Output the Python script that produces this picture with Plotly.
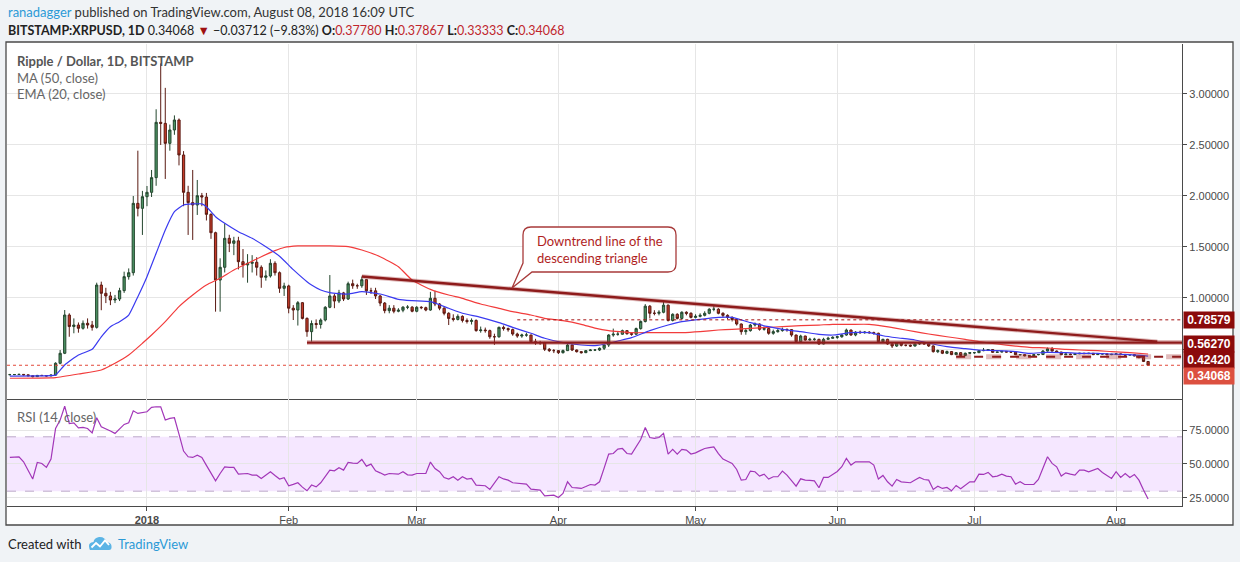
import plotly.graph_objects as go
import pandas as pd

W, H = 1240, 562
PL, PR, PT, PB = 7, 1182, 44, 506     # plot area in page pixels
SPLIT = 399                           # border between price pane and RSI pane


def px(x):
    return (x - PL) / (PR - PL)


def py(y):
    return (PB - y) / (PB - PT)


# ---------------- daily candles, 2017-12-02 .. 2018-08-08 ----------------
first_open = 0.248

dec_close = [0.249, 0.250, 0.251, 0.247, 0.238, 0.229, 0.241, 0.240, 0.236, 0.244,
             0.360, 0.458, 0.833, 0.720, 0.735, 0.703, 0.752, 0.735, 0.712, 1.127,
             1.046, 1.020, 0.980, 0.990, 1.072, 1.209, 1.248, 1.928, 1.879, 1.993]
dec_high = [0.256, 0.255, 0.258, 0.253, 0.249, 0.240, 0.246, 0.247, 0.243, 0.250,
            0.370, 0.490, 0.882, 0.850, 0.800, 0.760, 0.780, 0.800, 0.775, 1.150,
            1.160, 1.100, 1.060, 1.030, 1.100, 1.258, 1.290, 2.000, 2.444, 2.050]
dec_low = [0.243, 0.244, 0.245, 0.240, 0.232, 0.222, 0.228, 0.234, 0.230, 0.234,
           0.240, 0.350, 0.450, 0.620, 0.654, 0.660, 0.690, 0.700, 0.680, 0.700,
           0.880, 0.950, 0.930, 0.950, 0.970, 1.050, 1.180, 1.220, 1.800, 1.618]

jan_close = [2.036, 2.180, 2.722, 2.712, 2.516, 2.647, 2.745, 2.402, 2.036, 1.935,
             1.912, 2.003, 1.990, 1.820, 1.640, 1.176, 1.301, 1.585, 1.536, 1.560,
             1.356, 1.324, 1.340, 1.350, 1.301, 1.203, 1.216, 1.340, 1.248, 1.095,
             1.118]
jan_high = [2.098, 2.255, 2.850, 3.300, 3.060, 2.700, 2.790, 2.760, 2.440, 2.100,
            2.255, 2.157, 2.030, 2.030, 1.830, 1.650, 1.389, 1.732, 1.620, 1.600,
            1.600, 1.480, 1.430, 1.420, 1.400, 1.320, 1.270, 1.380, 1.360, 1.260,
            1.150]
jan_low = [1.900, 1.990, 2.100, 2.500, 2.167, 2.444, 2.600, 2.300, 1.900, 1.618,
           1.569, 1.814, 1.900, 1.760, 1.580, 0.866, 0.866, 1.250, 1.450, 1.420,
           1.280, 1.200, 1.150, 1.250, 1.220, 1.100, 1.170, 1.200, 1.220, 1.050,
           1.020]

feb_close = [0.900, 0.882, 0.954, 0.800, 0.670, 0.750, 0.740, 0.784, 0.909, 1.020,
             0.970, 1.050, 0.990, 1.140, 1.120, 1.120, 1.180, 1.070, 1.070, 1.020,
             0.950, 0.876, 0.900, 0.870, 0.880, 0.910, 0.910, 0.870]
feb_high = [1.130, 0.930, 0.970, 0.960, 0.810, 0.780, 0.790, 0.800, 0.920, 1.225,
            1.040, 1.080, 1.060, 1.160, 1.180, 1.140, 1.210, 1.180, 1.100, 1.100,
            1.030, 0.960, 0.930, 0.930, 0.900, 0.920, 0.930, 0.920]
feb_low = [0.850, 0.784, 0.730, 0.790, 0.620, 0.572, 0.700, 0.700, 0.770, 0.900,
           0.900, 0.950, 0.970, 0.980, 1.090, 1.090, 1.100, 1.030, 1.040, 0.990,
           0.920, 0.850, 0.850, 0.850, 0.860, 0.860, 0.890, 0.860]

mar_close = [0.909, 0.905, 0.882, 0.997, 0.941, 0.900, 0.850, 0.800, 0.790, 0.820,
             0.780, 0.770, 0.780, 0.680, 0.686, 0.680, 0.620, 0.620, 0.712, 0.700,
             0.690, 0.647, 0.627, 0.637, 0.637, 0.572, 0.562, 0.562, 0.497, 0.484,
             0.484]
mar_high = [0.920, 0.920, 0.915, 1.060, 1.070, 0.950, 0.910, 0.860, 0.840, 0.840,
            0.830, 0.800, 0.800, 0.790, 0.720, 0.710, 0.690, 0.650, 0.720, 0.730,
            0.710, 0.700, 0.660, 0.650, 0.660, 0.640, 0.600, 0.580, 0.570, 0.510,
            0.500]
mar_low = [0.860, 0.890, 0.870, 0.875, 0.920, 0.880, 0.830, 0.735, 0.770, 0.780,
           0.760, 0.750, 0.740, 0.670, 0.660, 0.660, 0.600, 0.540, 0.610, 0.680,
           0.670, 0.630, 0.610, 0.610, 0.620, 0.560, 0.540, 0.540, 0.480, 0.470,
           0.460]

apr_close = [0.464, 0.484, 0.539, 0.490, 0.474, 0.464, 0.484, 0.490, 0.490, 0.507,
             0.539, 0.637, 0.645, 0.645, 0.680, 0.650, 0.645, 0.700, 0.770, 0.920,
             0.850, 0.850, 0.860, 0.930, 0.780, 0.840, 0.800, 0.860, 0.850, 0.810]
apr_high = [0.490, 0.495, 0.550, 0.545, 0.495, 0.480, 0.490, 0.500, 0.500, 0.515,
            0.545, 0.645, 0.700, 0.670, 0.690, 0.685, 0.660, 0.710, 0.780, 0.940,
            0.930, 0.880, 0.880, 0.960, 0.935, 0.850, 0.850, 0.870, 0.870, 0.860]
apr_low = [0.451, 0.455, 0.480, 0.480, 0.465, 0.455, 0.460, 0.480, 0.480, 0.480,
           0.490, 0.520, 0.620, 0.630, 0.640, 0.640, 0.630, 0.640, 0.690, 0.760,
           0.800, 0.830, 0.830, 0.850, 0.770, 0.770, 0.790, 0.790, 0.830, 0.800]

may_close = [0.820, 0.830, 0.850, 0.890, 0.890, 0.850, 0.830, 0.810, 0.790, 0.745,
             0.670, 0.680, 0.735, 0.745, 0.693, 0.700, 0.654, 0.670, 0.680, 0.693,
             0.690, 0.637, 0.572, 0.627, 0.588, 0.595, 0.595, 0.549, 0.595, 0.605,
             0.614]
may_high = [0.840, 0.850, 0.870, 0.900, 0.920, 0.900, 0.860, 0.840, 0.820, 0.800,
            0.750, 0.700, 0.745, 0.760, 0.750, 0.720, 0.710, 0.690, 0.700, 0.710,
            0.700, 0.695, 0.640, 0.640, 0.630, 0.610, 0.610, 0.600, 0.610, 0.620,
            0.625]
may_low = [0.800, 0.810, 0.820, 0.840, 0.870, 0.840, 0.810, 0.790, 0.770, 0.730,
           0.640, 0.640, 0.670, 0.720, 0.680, 0.680, 0.640, 0.640, 0.660, 0.670,
           0.670, 0.620, 0.560, 0.560, 0.580, 0.580, 0.580, 0.540, 0.545, 0.590,
           0.600]

jun_close = [0.620, 0.637, 0.686, 0.637, 0.665, 0.660, 0.665, 0.660, 0.654, 0.572,
             0.595, 0.549, 0.529, 0.560, 0.536, 0.536, 0.529, 0.549, 0.556, 0.550,
             0.530, 0.474, 0.484, 0.458, 0.475, 0.445, 0.464, 0.436, 0.458, 0.464]
jun_high = [0.630, 0.645, 0.700, 0.690, 0.675, 0.680, 0.675, 0.675, 0.670, 0.660,
            0.600, 0.600, 0.560, 0.565, 0.565, 0.545, 0.545, 0.555, 0.565, 0.560,
            0.555, 0.535, 0.495, 0.490, 0.485, 0.480, 0.470, 0.470, 0.465, 0.470]
jun_low = [0.600, 0.610, 0.630, 0.630, 0.625, 0.650, 0.650, 0.650, 0.640, 0.560,
           0.560, 0.540, 0.510, 0.520, 0.525, 0.525, 0.520, 0.525, 0.540, 0.540,
           0.520, 0.465, 0.460, 0.450, 0.450, 0.440, 0.440, 0.425, 0.430, 0.450]

jul_close = [0.464, 0.484, 0.487, 0.495, 0.467, 0.470, 0.477, 0.470, 0.470, 0.444,
             0.445, 0.433, 0.435, 0.444, 0.446, 0.480, 0.503, 0.480, 0.470, 0.444,
             0.451, 0.445, 0.453, 0.458, 0.455, 0.458, 0.445, 0.452, 0.452, 0.445,
             0.448]
jul_high = [0.470, 0.490, 0.510, 0.500, 0.500, 0.475, 0.480, 0.480, 0.475, 0.472,
            0.450, 0.447, 0.440, 0.447, 0.450, 0.490, 0.515, 0.520, 0.485, 0.472,
            0.455, 0.455, 0.457, 0.462, 0.462, 0.462, 0.460, 0.455, 0.456, 0.458,
            0.452]
jul_low = [0.452, 0.460, 0.478, 0.480, 0.462, 0.462, 0.465, 0.465, 0.462, 0.440,
           0.436, 0.428, 0.428, 0.432, 0.438, 0.440, 0.475, 0.475, 0.465, 0.440,
           0.440, 0.440, 0.442, 0.450, 0.450, 0.450, 0.440, 0.442, 0.446, 0.440,
           0.440]

aug_close = [0.452, 0.447, 0.440, 0.445, 0.432, 0.415, 0.3778, 0.34068]
aug_high = [0.456, 0.455, 0.450, 0.448, 0.447, 0.434, 0.418, 0.37867]
aug_low = [0.442, 0.440, 0.435, 0.436, 0.428, 0.410, 0.372, 0.33333]

# ---------------- RSI (14, close), one value per day ----------------
dec_rsi = [54.8, 55.0, 55.3, 51.6, 45.0, 38.9, 51.1, 50.4, 47.5, 53.6,
           76.1, 82.3, 92.5, 79.8, 80.3, 76.6, 76.9, 76.1, 72.9, 84.0,
           77.4, 76.1, 74.3, 72.5, 76.0, 79.1, 80.3, 89.1, 87.2, 87.9]
jan_rsi = [88.4, 91.6, 92.1, 92.0, 82.3, 83.5, 84.0, 72.0, 59.5, 55.3,
           54.8, 56.5, 54.8, 49.0, 43.0, 37.6, 43.0, 47.9, 47.5, 47.5,
           42.5, 42.8, 43.0, 41.8, 41.8, 39.4, 42.0, 44.3, 41.5, 38.9, 39.9]
feb_rsi = [34.0, 35.0, 36.2, 33.0, 30.3, 34.5, 33.2, 36.2, 41.0, 45.5,
           45.0, 47.2, 45.5, 51.1, 50.6, 50.4, 53.3, 48.4, 49.9, 45.0,
           43.5, 41.8, 43.0, 42.8, 42.5, 44.3, 42.0, 41.8]
mar_rsi = [43.0, 43.0, 43.0, 51.4, 46.7, 44.3, 40.0, 38.9, 40.6, 38.1,
           40.6, 38.9, 39.4, 34.5, 34.2, 34.0, 31.3, 36.0, 40.6, 39.0,
           38.1, 36.2, 35.8, 35.5, 35.2, 31.5, 31.2, 30.8, 26.6, 27.0, 27.1]
apr_rsi = [25.4, 28.3, 36.9, 32.7, 32.4, 32.0, 33.4, 34.9, 34.5, 36.9,
           47.0, 57.3, 57.7, 61.0, 61.4, 57.7, 57.3, 62.6, 68.0, 76.9,
           69.5, 68.8, 69.5, 72.5, 57.3, 60.7, 57.3, 60.7, 60.2, 57.3]
may_rsi = [58.2, 59.8, 61.4, 62.0, 62.6, 57.7, 53.6, 52.0, 50.4, 46.0,
           38.1, 38.6, 44.8, 44.3, 41.1, 42.5, 38.9, 40.6, 40.6, 44.8,
           41.8, 37.8, 33.7, 39.1, 38.1, 37.9, 37.6, 32.5, 40.1, 40.1, 42.5]
jun_rsi = [44.5, 48.0, 54.1, 49.2, 51.6, 51.6, 51.6, 51.6, 49.2, 38.9,
           41.6, 36.9, 33.7, 38.6, 36.9, 36.5, 36.2, 38.2, 40.1, 38.6,
           38.1, 31.3, 33.7, 32.0, 32.7, 30.3, 34.2, 31.8, 34.5, 36.9]
jul_rsi = [36.9, 42.5, 42.3, 43.8, 40.6, 41.1, 42.5, 41.1, 40.6, 35.2,
           36.9, 34.9, 34.9, 34.9, 38.6, 47.0, 55.3, 50.4, 47.9, 41.1,
           43.5, 42.5, 41.8, 45.5, 45.5, 44.3, 45.5, 46.7, 43.8, 41.6, 39.4]
aug_rsi = [44.3, 40.1, 43.0, 40.1, 42.3, 38.1, 30.8, 24.2]

# ---------------- MA (50) and EMA (20) ----------------
ma_dates = ["2017-12-02", "2017-12-11", "2017-12-12", "2017-12-17", "2017-12-22", "2017-12-25",
            "2017-12-28", "2017-12-31", "2018-01-02", "2018-01-05", "2018-01-08", "2018-01-11",
            "2018-01-14", "2018-01-17", "2018-01-20", "2018-01-23", "2018-01-26", "2018-01-29",
            "2018-01-31", "2018-02-03", "2018-02-06", "2018-02-10", "2018-02-14", "2018-02-17",
            "2018-02-21", "2018-02-25", "2018-02-28", "2018-03-04", "2018-03-08", "2018-03-11",
            "2018-03-15", "2018-03-19", "2018-03-22", "2018-03-26", "2018-03-29", "2018-04-02",
            "2018-04-06", "2018-04-09", "2018-04-12", "2018-04-15", "2018-04-17", "2018-04-21",
            "2018-04-25", "2018-04-28", "2018-05-02", "2018-05-06", "2018-05-09", "2018-05-13",
            "2018-05-17", "2018-05-20", "2018-05-24", "2018-05-28", "2018-05-31", "2018-06-04",
            "2018-06-08", "2018-06-11", "2018-06-14", "2018-06-18", "2018-06-21", "2018-06-25",
            "2018-06-29", "2018-07-02", "2018-07-06", "2018-07-10", "2018-07-13", "2018-07-17",
            "2018-07-21", "2018-07-24", "2018-07-28", "2018-07-31", "2018-08-04", "2018-08-08"]
ma_vals = [0.213, 0.216, 0.219, 0.255, 0.294, 0.360, 0.441, 0.556, 0.637, 0.768, 0.915, 1.029,
           1.127, 1.193, 1.275, 1.340, 1.405, 1.464, 1.495, 1.510, 1.510, 1.510, 1.503, 1.470,
           1.405, 1.307, 1.176, 1.085, 1.029, 0.997, 0.941, 0.899, 0.866, 0.833, 0.800, 0.778,
           0.742, 0.705, 0.680, 0.668, 0.660, 0.660, 0.660, 0.660, 0.670, 0.686, 0.693, 0.703,
           0.712, 0.719, 0.729, 0.735, 0.742, 0.742, 0.742, 0.725, 0.703, 0.670, 0.647, 0.620,
           0.595, 0.572, 0.549, 0.529, 0.516, 0.510, 0.497, 0.490, 0.484, 0.474, 0.464, 0.451]

ema_dates = ["2017-12-02", "2017-12-11", "2017-12-12", "2017-12-14", "2017-12-17", "2017-12-20",
             "2017-12-22", "2017-12-24", "2017-12-26", "2017-12-28", "2017-12-30", "2018-01-01",
             "2018-01-03", "2018-01-05", "2018-01-07", "2018-01-09", "2018-01-11", "2018-01-13",
             "2018-01-14", "2018-01-16", "2018-01-18", "2018-01-21", "2018-01-24", "2018-01-27",
             "2018-01-30", "2018-02-02", "2018-02-05", "2018-02-06", "2018-02-08", "2018-02-10",
             "2018-02-14", "2018-02-17", "2018-02-21", "2018-02-25", "2018-02-28", "2018-03-04",
             "2018-03-08", "2018-03-11", "2018-03-15", "2018-03-19", "2018-03-22", "2018-03-26",
             "2018-03-29", "2018-04-02", "2018-04-06", "2018-04-09", "2018-04-12", "2018-04-14",
             "2018-04-17", "2018-04-21", "2018-04-25", "2018-04-28", "2018-05-02", "2018-05-06",
             "2018-05-09", "2018-05-13", "2018-05-17", "2018-05-20", "2018-05-24", "2018-05-28",
             "2018-05-31", "2018-06-04", "2018-06-08", "2018-06-11", "2018-06-14", "2018-06-18",
             "2018-06-21", "2018-06-25", "2018-06-29", "2018-07-02", "2018-07-06", "2018-07-10",
             "2018-07-13", "2018-07-17", "2018-07-21", "2018-07-24", "2018-07-28", "2018-07-31",
             "2018-08-04", "2018-08-08"]
ema_vals = [0.235, 0.238, 0.245, 0.343, 0.441, 0.497, 0.620, 0.719, 0.768, 0.833, 1.013, 1.209,
            1.438, 1.667, 1.846, 1.912, 1.922, 1.922, 1.895, 1.797, 1.732, 1.650, 1.585, 1.503,
            1.410, 1.278, 1.160, 1.127, 1.078, 1.052, 1.039, 1.062, 1.039, 0.987, 0.974, 0.964,
            0.899, 0.850, 0.810, 0.758, 0.712, 0.654, 0.605, 0.562, 0.539, 0.533, 0.556, 0.578,
            0.611, 0.680, 0.735, 0.768, 0.791, 0.810, 0.810, 0.758, 0.719, 0.693, 0.670, 0.644,
            0.637, 0.660, 0.660, 0.630, 0.610, 0.588, 0.556, 0.523, 0.503, 0.490, 0.484, 0.474,
            0.458, 0.467, 0.464, 0.458, 0.458, 0.451, 0.444, 0.431]

# ---------------- drawn levels ----------------
trend_dates = ["2018-02-17", "2018-08-10"]
trend_vals = [1.21, 0.572]
support_level, support_start = 0.5627, "2018-02-05"
floor_level, floor_start = 0.4242, "2018-06-27"
resist_level, resist_start = 0.78579, "2018-03-23"
last_close = 0.34068

x_start, x_end = "2017-12-01 09:00", "2018-08-15 10:00"
month_ticks = ["2018-01-01", "2018-02-01", "2018-03-01", "2018-04-01",
               "2018-05-01", "2018-06-01", "2018-07-01", "2018-08-01"]
month_labels = ["<b>2018</b>", "Feb", "Mar", "Apr", "May", "Jun", "Jul", "Aug"]

closes = (dec_close + jan_close + feb_close + mar_close + apr_close +
          may_close + jun_close + jul_close + aug_close)
highs = (dec_high + jan_high + feb_high + mar_high + apr_high +
         may_high + jun_high + jul_high + aug_high)
lows = (dec_low + jan_low + feb_low + mar_low + apr_low +
        may_low + jun_low + jul_low + aug_low)
rsi = (dec_rsi + jan_rsi + feb_rsi + mar_rsi + apr_rsi +
       may_rsi + jun_rsi + jul_rsi + aug_rsi)
opens = [first_open] + closes[:-1]
dates = pd.date_range("2017-12-02", periods=len(closes), freq="D")
assert len(closes) == len(highs) == len(lows) == len(rsi) == 250

AX_FONT = dict(family="Liberation Sans, Arial", size=11, color="#4a4a4a")
UI_FONT = "Lato, Open Sans, sans-serif"
LEVEL = "#8e1b1b"
GRID = "#e6e6e6"
EDGE = "#4a4a4a"

fig = go.Figure()

fig.add_trace(go.Candlestick(
    x=dates, open=opens, high=highs, low=lows, close=closes,
    increasing=dict(line=dict(color="#24462e", width=1), fillcolor="#4c9464"),
    decreasing=dict(line=dict(color="#5a1a12", width=1), fillcolor="#c43a28"),
    whiskerwidth=0, xaxis="x", yaxis="y", hoverinfo="skip"))

fig.add_trace(go.Scatter(x=ma_dates, y=ma_vals, mode="lines",
                         line=dict(color="#f23c3c", width=1.2, shape="spline", smoothing=0.5),
                         xaxis="x", yaxis="y", hoverinfo="skip"))
fig.add_trace(go.Scatter(x=ema_dates, y=ema_vals, mode="lines",
                         line=dict(color="#3a3af0", width=1.2, shape="spline", smoothing=0.5),
                         xaxis="x", yaxis="y", hoverinfo="skip"))

# last price line and the dotted resistance
fig.add_trace(go.Scatter(x=[x_start, x_end], y=[last_close, last_close], mode="lines",
                         line=dict(color="#e2483a", width=1, dash="dot"),
                         xaxis="x", yaxis="y", hoverinfo="skip"))
fig.add_trace(go.Scatter(x=[resist_start, x_end], y=[resist_level, resist_level], mode="lines",
                         line=dict(color="#a31010", width=1, dash="dot"),
                         xaxis="x", yaxis="y", hoverinfo="skip"))

# support + floor with a soft halo
for xs, lvl, dash in [([support_start, x_end], support_level, "solid"),
                      ([floor_start, x_end], floor_level, "dash")]:
    fig.add_trace(go.Scatter(x=xs, y=[lvl, lvl], mode="lines",
                             line=dict(color="rgba(170,60,60,0.35)", width=5, dash=dash),
                             xaxis="x", yaxis="y", hoverinfo="skip"))
    fig.add_trace(go.Scatter(x=xs, y=[lvl, lvl], mode="lines",
                             line=dict(color=LEVEL, width=2.2, dash=dash),
                             xaxis="x", yaxis="y", hoverinfo="skip"))

fig.add_trace(go.Scatter(x=trend_dates, y=trend_vals, mode="lines",
                         line=dict(color="rgba(150,30,30,0.3)", width=4.5),
                         xaxis="x", yaxis="y", hoverinfo="skip"))
fig.add_trace(go.Scatter(x=trend_dates, y=trend_vals, mode="lines",
                         line=dict(color=LEVEL, width=2.4),
                         xaxis="x", yaxis="y", hoverinfo="skip"))

fig.add_trace(go.Scatter(x=dates, y=rsi, mode="lines",
                         line=dict(color="#a236b8", width=1.2),
                         xaxis="x2", yaxis="y2", hoverinfo="skip"))

shapes = [
    # white chart card
    dict(type="rect", xref="paper", yref="paper", layer="below",
         x0=px(6), x1=px(1233), y0=py(525), y1=py(42),
         fillcolor="white", line=dict(color=EDGE, width=1.3)),
    # RSI 30-70 band
    dict(type="rect", xref="paper", yref="y2", layer="below",
         x0=0, x1=1, y0=30, y1=70, fillcolor="rgba(153,21,255,0.1)", line=dict(width=0)),
    dict(type="line", xref="paper", yref="y2", layer="between",
         x0=0, x1=1, y0=70, y1=70, line=dict(color="#bba9c9", width=1, dash="dash")),
    dict(type="line", xref="paper", yref="y2", layer="between",
         x0=0, x1=1, y0=30, y1=30, line=dict(color="#bba9c9", width=1, dash="dash")),
]


def path_of(points_cmds):
    out = []
    for cmd, pts in points_cmds:
        coords = " ".join(f"{px(a):.5f},{py(b):.5f}" for a, b in pts)
        out.append(f"{cmd} {coords}")
    return " ".join(out) + " Z"


callout = path_of([
    ("M", [(531, 227)]), ("L", [(668, 227)]), ("Q", [(676, 227), (676, 235)]),
    ("L", [(676, 264)]), ("Q", [(676, 272), (668, 272)]), ("L", [(532, 272)]),
    ("L", [(512, 288)]), ("L", [(523, 263)]), ("L", [(523, 235)]),
    ("Q", [(523, 227), (531, 227)]),
])
shapes.append(dict(type="path", xref="paper", yref="paper", path=callout,
                   fillcolor="white", line=dict(color="#a83a3a", width=1.3)))

# TradingView logo in the footer
logo = path_of([
    ("M", [(90, 550)]), ("L", [(109, 550)]), ("Q", [(112, 550), (111.5, 546)]),
    ("Q", [(111, 542), (107, 542.5)]), ("Q", [(105, 536.5), (99, 537)]),
    ("Q", [(94, 538), (93.5, 542)]), ("Q", [(88.5, 542.5), (89, 546.5)]),
    ("Q", [(89.5, 550), (90, 550)]),
])
shapes.append(dict(type="path", xref="paper", yref="paper", path=logo,
                   fillcolor="#5bb4e5", line=dict(width=0)))
zig = "M " + " L ".join(f"{px(a):.5f},{py(b):.5f}" for a, b in
                        [(91.5, 547.5), (96, 543), (100, 546.5), (105, 540.5), (109, 545)])
shapes.append(dict(type="path", xref="paper", yref="paper", path=zig,
                   line=dict(color="white", width=1.8)))

ann = []


def text(x, y, s, size=13, color="#333", family=UI_FONT, anchor="left"):
    ann.append(dict(xref="paper", yref="paper", x=px(x), y=py(y), text=s, showarrow=False,
                    xanchor=anchor, yanchor="middle", align="left",
                    font=dict(family=family, size=size, color=color)))


text(6, 12, '<span style="color:#2b9ad6">ranadagger</span> published on TradingView.com, '
            'August 08, 2018 16:09 UTC')
red = "#c0262d"
text(6, 30, '<b>BITSTAMP:XRPUSD, 1D</b> 0.34068 <span style="color:#9e1010">▼</span> '
            '−0.03712 (−9.83%) '
            f'<b>O:</b><span style="color:{red}">0.37780</span> '
            f'<b>H:</b><span style="color:{red}">0.37867</span> '
            f'<b>L:</b><span style="color:{red}">0.33333</span> '
            f'<b>C:</b><span style="color:{red}">0.34068</span>', size=12.5, color="#222")
text(15, 61, "<b>Ripple / Dollar, 1D, BITSTAMP</b>", color="#555")
text(15, 78, "MA (50, close)", color="#666")
text(15, 94, "EMA (20, close)", color="#666")
text(15, 417, "RSI (14, close)", color="#666")
text(535, 249, "Downtrend line of the<br>descending triangle", color="#b01e1e")
text(6, 544, "Created with", color="#222")
text(116, 544, "TradingView", color="#2b9ad6")

# price labels on the right axis
for val, bg, shift in [(resist_level, "#8b0b0b", 0), (support_level, "#8b0b0b", -1),
                       (floor_level, "#8b0b0b", -3), (last_close, "#dc5040", -11)]:
    ann.append(dict(xref="paper", yref="y", x=px(1183), y=val, yshift=shift,
                    text=f"<b>{val:.5f}</b>", showarrow=False, xanchor="left", yanchor="middle",
                    bgcolor=bg, width=48, height=14, borderpad=1,
                    font=dict(family="Liberation Sans, Arial", size=12, color="white")))

fig.update_layout(
    width=W, height=H, autosize=False,
    margin=dict(l=PL, r=W - PR, t=PT, b=H - PB, pad=0),
    paper_bgcolor="#f0f3f6", plot_bgcolor="white",
    showlegend=False,
    xaxis=dict(domain=[0, 1], anchor="y", type="date", range=[x_start, x_end],
               tickvals=month_ticks, showticklabels=False, ticks="",
               showgrid=True, gridcolor=GRID, gridwidth=1,
               showline=True, linecolor=EDGE, linewidth=1.3,
               rangeslider=dict(visible=False), matches="x2"),
    xaxis2=dict(domain=[0, 1], anchor="y2", type="date", range=[x_start, x_end],
                tickvals=month_ticks, ticktext=month_labels, ticks="outside", ticklen=4,
                tickcolor=EDGE, tickfont=AX_FONT,
                showgrid=True, gridcolor=GRID, gridwidth=1,
                showline=True, linecolor=EDGE, linewidth=1.3),
    yaxis=dict(domain=[py(SPLIT), 1], anchor="x", side="right", range=[0.0098, 3.49],
               tickvals=[0.5, 1.0, 1.5, 2.0, 2.5, 3.0],
               ticktext=["", "1.00000", "1.50000", "2.00000", "2.50000", "3.00000"],
               ticks="outside", ticklen=4, tickcolor=EDGE, tickfont=AX_FONT,
               showgrid=True, gridcolor=GRID, zeroline=False,
               showline=True, linecolor=EDGE, linewidth=1.3),
    yaxis2=dict(domain=[0, py(SPLIT)], anchor="x2", side="right", range=[19.1, 97.8],
                tickvals=[25, 50, 75], ticktext=["25.0000", "50.0000", "75.0000"],
                ticks="outside", ticklen=4, tickcolor=EDGE, tickfont=AX_FONT,
                showgrid=True, gridcolor=GRID, zeroline=False,
                showline=True, linecolor=EDGE, linewidth=1.3),
    shapes=shapes,
    annotations=ann,
)

# the page body has a default 8px margin; drop it so the figure sits at the window origin
fig.write_html("out.html", config={"displayModeBar": False},
               post_script="document.body.style.margin='0';"
                           "document.body.style.background='#f0f3f6';")
